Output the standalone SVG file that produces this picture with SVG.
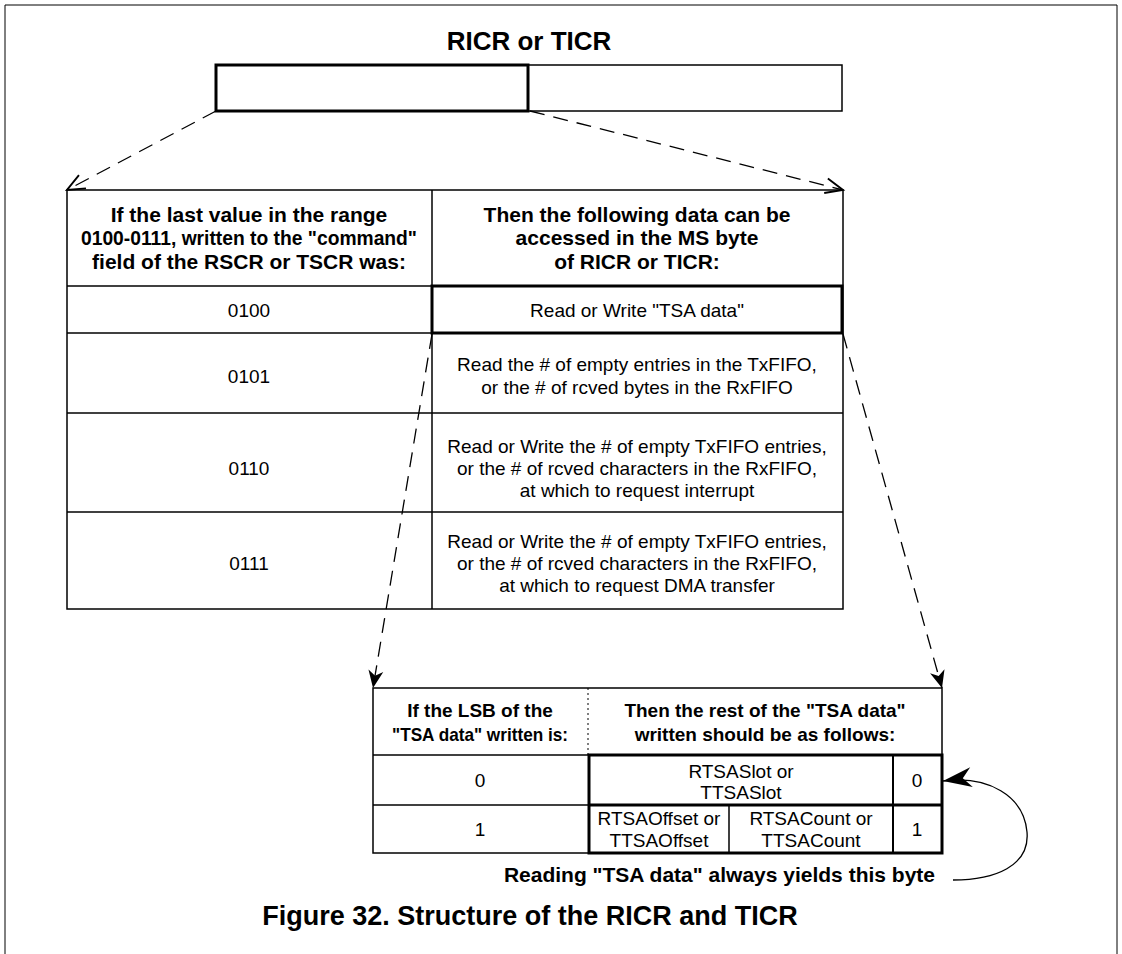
<svg xmlns="http://www.w3.org/2000/svg" width="1122" height="954" viewBox="0 0 1122 954">
<style>
.b{font-family:"Liberation Sans",Arial,sans-serif;font-weight:bold;font-size:21px;fill:#000;text-anchor:middle}
.bs{font-family:"Liberation Sans",Arial,sans-serif;font-weight:bold;font-size:19px;fill:#000;text-anchor:middle}
.t{font-family:"Liberation Sans",Arial,sans-serif;font-size:19px;fill:#000;text-anchor:middle}
.big{font-family:"Liberation Sans",Arial,sans-serif;font-weight:bold;font-size:26px;fill:#000;text-anchor:middle}
.thin{fill:none;stroke:#000;stroke-width:1.5}
.thick{fill:none;stroke:#000;stroke-width:3}
.dash{fill:none;stroke:#000;stroke-width:1.3;stroke-dasharray:15 9}
</style>
<defs>
<marker id="vopen" markerUnits="userSpaceOnUse" markerWidth="30" markerHeight="30" refX="0" refY="0" viewBox="-20 -10 24 20" orient="auto">
<path d="M-14,-6 L0,0 L-14,6" fill="none" stroke="#000" stroke-width="1.5"/>
</marker>
<marker id="vbarb" markerUnits="userSpaceOnUse" markerWidth="30" markerHeight="30" refX="0" refY="0" viewBox="-20 -10 24 20" orient="auto">
<path d="M0,0 L-14,-6 L-10,0 L-14,6 Z" fill="#000"/>
</marker>
<marker id="bigbarb" markerUnits="userSpaceOnUse" markerWidth="40" markerHeight="30" refX="0" refY="0" viewBox="-28 -12 32 24" orient="auto">
<path d="M0,0 L-23,-8 L-16,0 L-23,8 Z" fill="#000"/>
</marker>
</defs>
<rect width="1122" height="954" fill="#fff"/>
<path d="M5,954 V5 H1117 V954" fill="none" stroke="#000" stroke-width="1"/>

<g id="title"><text class="big" x="529" y="50">RICR or TICR</text></g>

<g id="register">
<rect class="thin" x="528" y="65" width="314" height="46"/>
<rect class="thick" x="216" y="65" width="312" height="46"/>
</g>

<g id="main-table">
<rect class="thin" x="67" y="190" width="776" height="419"/>
<line class="thin" x1="432" y1="190" x2="432" y2="609"/>
<line class="thin" x1="67" y1="286" x2="843" y2="286"/>
<line class="thin" x1="67" y1="333" x2="843" y2="333"/>
<line class="thin" x1="67" y1="413" x2="843" y2="413"/>
<line class="thin" x1="67" y1="512" x2="843" y2="512"/>
<text class="b" x="249" y="222">If the last value in the range</text>
<text class="b" x="249" y="245" textLength="336" lengthAdjust="spacingAndGlyphs">0100-0111, written to the "command"</text>
<text class="b" x="249" y="269">field of the RSCR or TSCR was:</text>
<text class="b" x="637" y="222">Then the following data can be</text>
<text class="b" x="637" y="245">accessed  in the MS byte</text>
<text class="b" x="637" y="269">of RICR or TICR:</text>
</g>

<g id="row-0100">
<text class="t" x="249" y="317">0100</text>
<rect class="thick" x="432" y="286" width="410" height="47"/>
<text class="t" x="637" y="317">Read or Write "TSA data"</text>
</g>

<g id="row-0101">
<text class="t" x="249" y="383">0101</text>
<text class="t" x="637" y="371">Read the # of empty entries in the TxFIFO,</text>
<text class="t" x="637" y="394">or the # of rcved bytes in the RxFIFO</text>
</g>

<g id="row-0110">
<text class="t" x="249" y="475">0110</text>
<text class="t" x="637" y="453">Read or Write the # of empty TxFIFO entries,</text>
<text class="t" x="637" y="475">or the # of rcved characters in the RxFIFO,</text>
<text class="t" x="637" y="497">at which to request interrupt</text>
</g>

<g id="row-0111">
<text class="t" x="249" y="570">0111</text>
<text class="t" x="637" y="548">Read or Write the # of empty TxFIFO entries,</text>
<text class="t" x="637" y="570">or the # of rcved characters in the RxFIFO,</text>
<text class="t" x="637" y="592">at which to request DMA transfer</text>
</g>

<g id="lsb-table">
<rect class="thin" x="373" y="688" width="569" height="165"/>
<line x1="588" y1="688" x2="588" y2="755" stroke="#000" stroke-width="1" stroke-dasharray="2 3"/>
<line class="thin" x1="373" y1="755" x2="589" y2="755"/>
<line class="thin" x1="373" y1="805" x2="589" y2="805"/>
<text class="bs" x="480" y="717">If the LSB of the</text>
<text class="bs" x="480" y="741" textLength="176" lengthAdjust="spacingAndGlyphs">"TSA data" written is:</text>
<text class="bs" x="765" y="717">Then the rest of the "TSA data"</text>
<text class="bs" x="765" y="741">written should be as follows:</text>
<text class="t" x="480" y="787">0</text>
<text class="t" x="480" y="836">1</text>
</g>

<g id="tsa-byte">
<rect class="thick" x="589" y="755" width="353" height="98"/>
<line class="thick" x1="589" y1="805" x2="942" y2="805"/>
<line x1="893" y1="755" x2="893" y2="853" stroke="#000" stroke-width="2"/>
<line class="thin" x1="729" y1="805" x2="729" y2="853"/>
<text class="t" x="741" y="778">RTSASlot or</text>
<text class="t" x="741" y="799">TTSASlot</text>
<text class="t" x="917" y="787">0</text>
<text class="t" x="659" y="825">RTSAOffset or</text>
<text class="t" x="659" y="847">TTSAOffset</text>
<text class="t" x="811" y="825">RTSACount or</text>
<text class="t" x="811" y="847">TTSACount</text>
<text class="t" x="917" y="836">1</text>
</g>

<g id="connectors">
<line class="dash" x1="216" y1="111" x2="67" y2="190" marker-end="url(#vopen)"/>
<line class="dash" x1="530" y1="111" x2="843" y2="190" marker-end="url(#vopen)"/>
<line class="dash" x1="432" y1="334" x2="373" y2="688" marker-end="url(#vbarb)"/>
<line class="dash" x1="843" y1="334" x2="942" y2="688" marker-end="url(#vbarb)"/>
<path d="M953,880 C995,880 1030,866 1027,832 C1024,796 988,775 943,781" fill="none" stroke="#000" stroke-width="1.3" marker-end="url(#bigbarb)"/>
</g>

<g id="note"><text class="b" x="935" y="882" style="text-anchor:end">Reading "TSA data" always yields this byte</text></g>
<g id="caption"><text class="big" x="530" y="925" style="font-size:27px">Figure 32.  Structure of the RICR and TICR</text></g>
</svg>
